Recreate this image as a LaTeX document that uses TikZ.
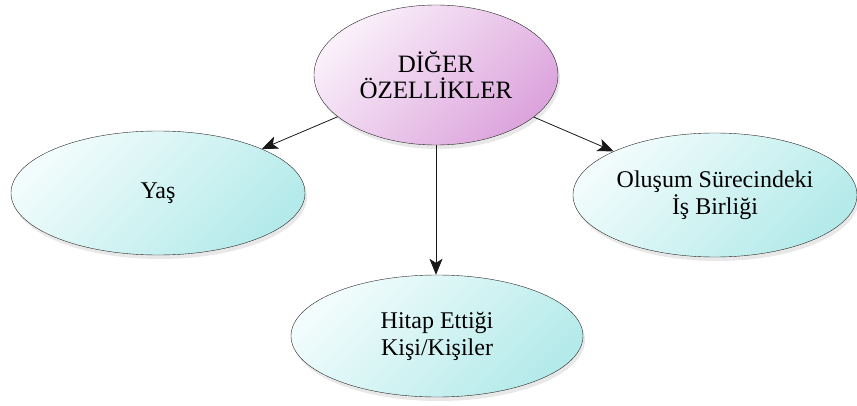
\documentclass[tikz,border=0pt]{standalone}
\usepackage{fontspec}
\setmainfont{Liberation Serif}
\usetikzlibrary{shapes.geometric,arrows.meta,shadows}

\definecolor{bubbleLight}{HTML}{F2FCFC}
\definecolor{bubbleDark}{HTML}{B4EAEA}
\definecolor{mainLight}{HTML}{FAF0FA}
\definecolor{mainDark}{HTML}{DCA4DC}

\tikzset{
    bubble/.style={ellipse, draw=black!85, thin, inner sep=0pt, align=center,
        top color=bubbleLight, bottom color=bubbleDark, shading angle=45,
        drop shadow={opacity=0.18, shadow xshift=2pt, shadow yshift=-4pt},
        font=\fontsize{24}{27}\selectfont},
    mainbubble/.style={bubble, top color=mainLight, bottom color=mainDark, shading angle=45,
        font=\fontsize{25}{26}\selectfont},
    link/.style={-{Stealth[length=16pt,width=13pt,inset=4pt]}, thick, black!90}
}

\begin{document}
\begin{tikzpicture}[x=1pt, y=1pt]

    % Frame
    \useasboundingbox (0,0) rectangle (857,405);

    %%%% Centre node
    \node[mainbubble, minimum width=244, minimum height=140] (diger) at (436,330)
        {D\.{I}\u{G}ER\\\"OZELL\.{I}KLER};

    %%%% Child nodes
    \node[bubble, minimum width=294, minimum height=124] (yas) at (158,212) {Ya\c{s}};
    \node[bubble, minimum width=292, minimum height=122] (hitap) at (437,69)
        {Hitap Etti\u{g}i\\Ki\c{s}i/Ki\c{s}iler};
    \node[bubble, minimum width=284, minimum height=124] (olusum) at (715,210)
        {Olu\c{s}um S\"urecindeki\\\.{I}\c{s} Birli\u{g}i};

    % Links
    \draw[link] (diger) -- (yas);
    \draw[link] (diger.south) -- (diger.south |- hitap.north);
    \draw[link] (diger) -- (olusum);

\end{tikzpicture}
\end{document}
